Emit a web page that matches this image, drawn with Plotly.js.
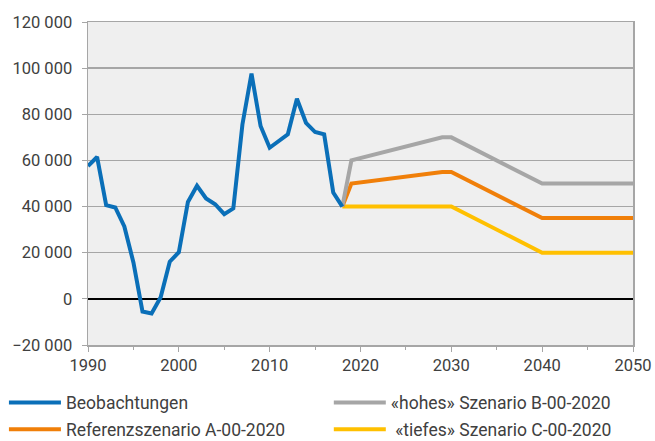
<!DOCTYPE html>
<html>
<head>
<meta charset="utf-8">
<script src="https://cdn.plot.ly/plotly-3.0.1.min.js"></script>
<style>html,body{margin:0;padding:0;background:#fff;}#chart{width:655px;height:441px;}</style>
</head>
<body>
<div id="chart"></div>
<script>
// Observations
const obsYears = [1990,1991,1992,1993,1994,1995,1996,1997,1998,1999,2000,2001,2002,2003,2004,2005,2006,2007,2008,2009,2010,2011,2012,2013,2014,2015,2016,2017,2018];
const obsValues = [57600,61500,40600,39600,31400,15800,-5500,-6300,700,16100,20200,42000,49000,43500,41000,36700,39200,75600,97600,74900,65500,68400,71300,86700,76300,72300,71300,46100,40000];

// Scenario breakpoints
const scenYears = [2018,2019,2029,2030,2040,2050];
const scenB = [40000,60000,70000,70000,50000,50000];
const scenA = [40000,50000,55000,55000,35000,35000];
const scenC = [40000,40000,40000,40000,20000,20000];

const names = ["Beobachtungen","«hohes» Szenario B-00-2020","Referenzszenario A-00-2020"," «tiefes» Szenario C-00-2020"];
const colors = ["#0a6fb8","#a6a6a6","#f07f09","#ffc000"];

const tickFont = {family:"Roboto, sans-serif", size:16.5, color:"#404040"};
const legendFont = {family:"Roboto, sans-serif", size:17.5, color:"#404040"};

const traces = [
  {x:scenYears, y:scenC, name:names[3], mode:"lines", line:{color:colors[3], width:4}, legend:"legend4"},
  {x:scenYears, y:scenA, name:names[2], mode:"lines", line:{color:colors[2], width:4}, legend:"legend2"},
  {x:scenYears, y:scenB, name:names[1], mode:"lines", line:{color:colors[1], width:4}, legend:"legend3"},
  {x:obsYears, y:obsValues, name:names[0], mode:"lines", line:{color:colors[0], width:4}, legend:"legend"}
];

const legendBase = {orientation:"h", xref:"container", yref:"container", xanchor:"left", yanchor:"top",
  font:legendFont, itemwidth:52, bgcolor:"rgba(0,0,0,0)"};

const layout = {
  width:655, height:441,
  margin:{l:88, r:22, t:22, b:96},
  paper_bgcolor:"#ffffff",
  plot_bgcolor:"#efefef",
  separators:". ",
  font:tickFont,
  showlegend:true,
  legend:Object.assign({}, legendBase, {x:0.006, y:0.128}),
  legend2:Object.assign({}, legendBase, {x:0.006, y:0.067}),
  legend3:Object.assign({}, legendBase, {x:0.502, y:0.128}),
  legend4:Object.assign({}, legendBase, {x:0.502, y:0.067}),
  xaxis:{
    range:[1990,2050], dtick:10, tick0:1990, showgrid:false, zeroline:false, automargin:false,
    showline:true, linecolor:"#a6a6a6", linewidth:1.5, mirror:true,
    ticks:"outside", ticklen:5, tickcolor:"#a6a6a6",
    minor:{dtick:5, ticks:"outside", ticklen:3, tickcolor:"#a6a6a6", showgrid:false},
    tickfont:tickFont
  },
  yaxis:{
    range:[-20000,120000], dtick:20000, tickformat:",d", automargin:false,
    showgrid:true, gridcolor:"#a6a6a6", gridwidth:1.5,
    zeroline:true, zerolinecolor:"#000000", zerolinewidth:1.5,
    showline:true, linecolor:"#a6a6a6", linewidth:1.5, mirror:true,
    ticks:"outside", ticklen:5, tickcolor:"#a6a6a6", ticklabelstandoff:6,
    tickfont:tickFont
  }
};

Plotly.newPlot("chart", traces, layout, {displayModeBar:false, staticPlot:true});
</script>
</body>
</html>
